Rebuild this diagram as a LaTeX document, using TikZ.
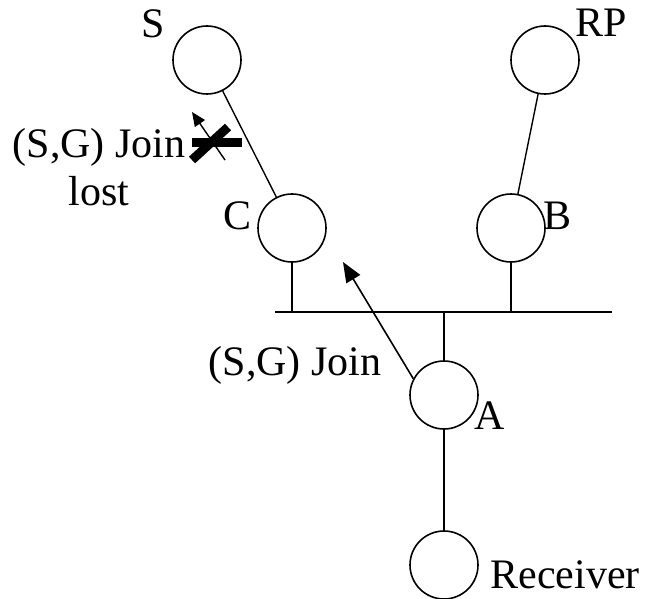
\documentclass[tikz,border=0pt]{standalone}
\usepackage{fontspec}
\setmainfont{Liberation Serif}
\usetikzlibrary{arrows.meta}
\begin{document}
\begin{tikzpicture}[x=1pt,y=-1pt,
  router/.style={circle,draw,line width=1.6pt,minimum size=68pt,inner sep=0pt},
  lbl/.style={font=\fontsize{42}{48}\selectfont,inner sep=0pt,anchor=base},
  link/.style={line width=1.4pt},
  joinarrow/.style={line width=1.6pt,-{Triangle[length=20pt,width=16pt]}},
  smallarrow/.style={line width=1.4pt,-{Triangle[length=14pt,width=12pt]}},
  crossbar/.style={line width=9pt}]
\useasboundingbox (0,0) rectangle (645,599);
\node[router] (S) at (207,60) {};
\node[router] (RP) at (545,60) {};
\node[router] (C) at (292,228) {};
\node[router] (B) at (511,228) {};
\node[router] (A) at (444,395) {};
\node[router] (R) at (444,565) {};
\node[lbl] (lS) at (153,38) {S};
\node[lbl] (lRP) at (601,37) {RP};
\node[lbl] (lC) at (238,229) {C};
\node[lbl] (lB) at (557,229) {B};
\node[lbl] (lA) at (490,429) {A};
\node[lbl] (lR) at (565,588) {Receiver};
\node[lbl] (lJ) at (295,375) {(S,G) Join};
\node[lbl,align=center] (lL) at (99,205) {(S,G) Join\\lost};
\coordinate (busL) at (275,312);
\coordinate (busR) at (612,312);
\coordinate (tC) at (292,312);
\coordinate (tB) at (511,312);
\coordinate (tA) at (444,312);
\draw[link] (busL) -- (busR);
\draw[link] (C) -- (tC);
\draw[link] (B) -- (tB);
\draw[link] (tA) -- (A);
\draw[link] (A) -- (R);
\draw[link] (S) -- (C);
\draw[link] (RP) -- (B);
\coordinate (jt) at (343,262);
\draw[joinarrow] (A.152) -- (jt);
\coordinate (st) at (225,160);
\coordinate (sh) at (192,112);
\draw[smallarrow] (st) -- (sh);
\coordinate (x1) at (192,143);
\coordinate (x2) at (242,143);
\coordinate (x3) at (192,160);
\coordinate (x4) at (228,127);
\draw[crossbar] (x1) -- (x2);
\draw[crossbar] (x3) -- (x4);
\end{tikzpicture}
\end{document}
